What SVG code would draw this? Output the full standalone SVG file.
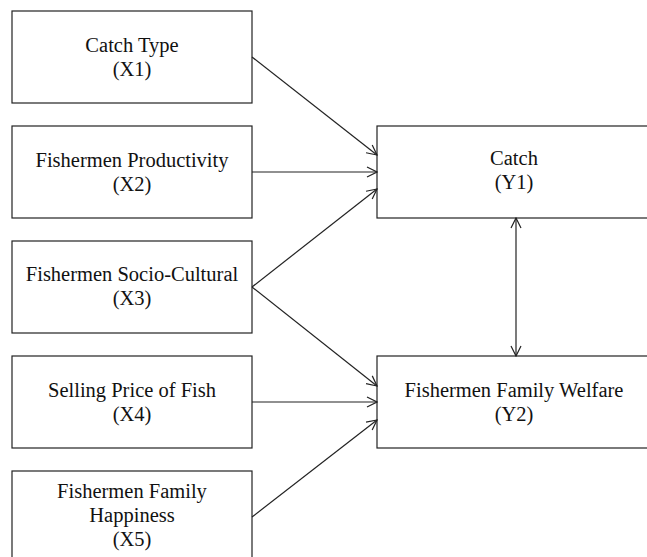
<svg xmlns="http://www.w3.org/2000/svg" width="647" height="557" viewBox="0 0 647 557">
<style>
.box{fill:#fff;stroke:#222;stroke-width:1.2}
.t{font-family:"Liberation Serif","Times New Roman",serif;font-size:20.5px;fill:#111;text-anchor:middle}
.c{stroke:#222;stroke-width:1.2;fill:none}
</style>
<defs>
<marker id="ah" viewBox="0 0 12 12" refX="11" refY="6" markerWidth="12" markerHeight="12" markerUnits="userSpaceOnUse" orient="auto-start-reverse">
<path d="M1,1 L11,6 L1,11" fill="none" stroke="#222" stroke-width="1.2"/>
</marker>
</defs>
<rect width="647" height="557" fill="#fff"/>
<g id="x1"><rect class="box" x="12" y="11" width="240" height="92"/><text class="t" x="132" y="52">Catch Type</text><text class="t" x="132" y="76">(X1)</text></g>
<g id="x2"><rect class="box" x="12" y="126" width="240" height="92"/><text class="t" x="132" y="167">Fishermen Productivity</text><text class="t" x="132" y="191">(X2)</text></g>
<g id="x3"><rect class="box" x="12" y="241" width="240" height="92"/><text class="t" x="132" y="281">Fishermen Socio-Cultural</text><text class="t" x="132" y="305">(X3)</text></g>
<g id="x4"><rect class="box" x="12" y="356" width="240" height="92"/><text class="t" x="132" y="397">Selling Price of Fish</text><text class="t" x="132" y="421">(X4)</text></g>
<g id="x5"><rect class="box" x="12" y="471" width="240" height="96"/><text class="t" x="132" y="498">Fishermen Family</text><text class="t" x="132" y="522">Happiness</text><text class="t" x="132" y="546">(X5)</text></g>
<g id="y1"><rect class="box" x="377" y="126" width="276" height="92"/><text class="t" x="514" y="165">Catch</text><text class="t" x="514" y="189">(Y1)</text></g>
<g id="y2"><rect class="box" x="377" y="356" width="276" height="92"/><text class="t" x="514" y="397">Fishermen Family Welfare</text><text class="t" x="514" y="421">(Y2)</text></g>
<g id="connectors">
<line class="c" x1="252" y1="57" x2="377" y2="155" marker-end="url(#ah)"/>
<line class="c" x1="252" y1="172" x2="377" y2="172" marker-end="url(#ah)"/>
<line class="c" x1="252" y1="287" x2="377" y2="189" marker-end="url(#ah)"/>
<line class="c" x1="252" y1="287" x2="377" y2="386" marker-end="url(#ah)"/>
<line class="c" x1="252" y1="402" x2="377" y2="402" marker-end="url(#ah)"/>
<line class="c" x1="252" y1="517" x2="377" y2="420" marker-end="url(#ah)"/>
<line class="c" x1="516" y1="218" x2="516" y2="356" marker-start="url(#ah)" marker-end="url(#ah)"/>
</g>
</svg>
